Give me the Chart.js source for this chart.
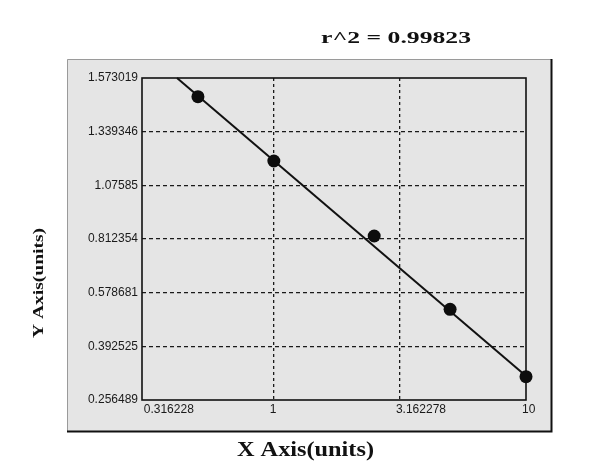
<!DOCTYPE html>
<html><head><meta charset="utf-8">
<script src="https://cdn.jsdelivr.net/npm/chart.js@4/dist/chart.umd.min.js"></script>
<style>html,body{margin:0;padding:0;background:#fff}#wrap{width:600px;height:472px;position:relative}</style>
</head><body><div id="wrap"><canvas id="c" width="600" height="472"></canvas></div>
<script>
const titleText = 'r^2 = 0.99823';
const xAxisTitle = 'X Axis(units)';
const yAxisTitle = 'Y Axis(units)';
const xTickValues = [0.316228, 1, 3.162278, 10];
const xTickLabels = ['0.316228', '1', '3.162278', '10'];
const yTickValues = [0.256489, 0.392525, 0.578681, 0.812354, 1.07585, 1.339346, 1.573019];
const yTickLabels = ['0.256489', '0.392525', '0.578681', '0.812354', '1.07585', '1.339346', '1.573019'];
const concentrations = [0.5, 1, 2.5, 5, 10];
const responses = [1.4917, 1.1952, 0.8271, 0.5210, 0.3155];
const fitX = [0.413, 10];
const fitY = [1.573019, 0.3173];

// y axis: tick labels are evenly spaced; values between ticks are interpolated
class TickSpacedScale extends Chart.LinearScale {
  determineDataLimits() {
    this.min = yTickValues[0];
    this.max = yTickValues[yTickValues.length - 1];
  }
  buildTicks() { return yTickValues.map(v => ({ value: v })); }
  getPixelForValue(value) {
    const v = yTickValues, n = v.length;
    let i = 0;
    while (i < n - 2 && value > v[i + 1]) i++;
    const f = (i + (value - v[i]) / (v[i + 1] - v[i])) / (n - 1);
    return this.getPixelForDecimal(f);
  }
  getValueForPixel(pixel) {
    const v = yTickValues, n = v.length;
    const d = this.getDecimalForPixel(pixel) * (n - 1);
    const i = Math.min(n - 2, Math.max(0, Math.floor(d)));
    return v[i] + (d - i) * (v[i + 1] - v[i]);
  }
}
TickSpacedScale.id = 'tickspaced';
Chart.register(TickSpacedScale);

function fitText(ctx, text, x, y, font, target, angle) {
  ctx.save();
  ctx.font = font;
  ctx.translate(x, y);
  ctx.rotate(angle);
  const w = ctx.measureText(text).width;
  ctx.scale(target / w, 1);
  ctx.textAlign = 'center';
  ctx.textBaseline = 'alphabetic';
  ctx.fillStyle = '#111';
  ctx.fillText(text, 0, 0);
  ctx.restore();
}

const decor = {
  id: 'decor',
  beforeDraw(chart) {
    const ctx = chart.ctx;
    ctx.save();
    ctx.fillStyle = '#ffffff';
    ctx.fillRect(0, 0, chart.width, chart.height);
    ctx.fillStyle = '#e5e5e5';
    ctx.fillRect(67, 59, 484, 372);
    ctx.lineWidth = 1;
    ctx.strokeStyle = '#9a9a9a';
    ctx.beginPath();
    ctx.moveTo(67.5, 431); ctx.lineTo(67.5, 59.5); ctx.lineTo(551, 59.5);
    ctx.stroke();
    ctx.lineWidth = 2;
    ctx.strokeStyle = '#111';
    ctx.beginPath();
    ctx.moveTo(551.5, 59); ctx.lineTo(551.5, 431.5); ctx.lineTo(67, 431.5);
    ctx.stroke();
    ctx.restore();
  },
  beforeDatasetsDraw(chart) {
    const ctx = chart.ctx, a = chart.chartArea;
    ctx.save();
    ctx.lineWidth = 1.6;
    ctx.strokeStyle = '#111';
    ctx.strokeRect(a.left, a.top, a.right - a.left, a.bottom - a.top);
    ctx.restore();
  },
  afterDraw(chart) {
    const ctx = chart.ctx;
    fitText(ctx, titleText, 396, 43, 'bold 17px "Liberation Serif"', 150, 0);
    fitText(ctx, xAxisTitle, 305.5, 456, 'bold 22px "Liberation Serif"', 137, 0);
    fitText(ctx, yAxisTitle, 42.5, 283, 'bold 15px "Liberation Serif"', 110, -Math.PI / 2);
  }
};

const gridColor = (n) => (c) => (c.index === 0 || c.index === n - 1) ? 'rgba(0,0,0,0)' : '#1a1a1a';

new Chart(document.getElementById('c'), {
  type: 'scatter',
  data: {
    datasets: [
      {
        label: 'fit',
        data: fitX.map((x, i) => ({ x, y: fitY[i] })),
        showLine: true,
        borderColor: '#111',
        borderWidth: 2,
        pointRadius: 0,
        fill: false,
        clip: false,
        order: 2
      },
      {
        label: 'standards',
        data: concentrations.map((x, i) => ({ x, y: responses[i] })),
        showLine: false,
        pointRadius: 6.5,
        pointStyle: 'circle',
        backgroundColor: '#0d0d0d',
        borderColor: '#0d0d0d',
        borderWidth: 0,
        clip: false,
        order: 1
      }
    ]
  },
  options: {
    responsive: false,
    animation: false,
    events: [],
    layout: { padding: { left: 0, top: 78, right: 74, bottom: 52 } },
    plugins: { legend: { display: false }, tooltip: { enabled: false }, title: { display: false } },
    scales: {
      x: {
        type: 'logarithmic',
        min: xTickValues[0],
        max: xTickValues[xTickValues.length - 1],
        afterBuildTicks: (s) => { s.ticks = xTickValues.map(v => ({ value: v })); },
        afterFit: (s) => { s.height = 20; },
        border: { display: false, dash: [3, 3] },
        grid: { color: gridColor(xTickValues.length), lineWidth: 1.3, drawTicks: false },
        ticks: {
          autoSkip: false,
          maxRotation: 0,
          align: 'start',
          labelOffset: -4,
          padding: 2,
          color: '#1a1a1a',
          font: { family: '"Liberation Sans", Arial, sans-serif', size: 12 },
          callback: (v, i) => xTickLabels[i]
        }
      },
      y: {
        type: 'tickspaced',
        afterFit: (s) => { s.width = 142; },
        border: { display: false, dash: [4, 3] },
        grid: { color: gridColor(yTickValues.length), lineWidth: 1.3, drawTicks: false },
        ticks: {
          autoSkip: false,
          padding: 4,
          color: '#1a1a1a',
          font: { family: '"Liberation Sans", Arial, sans-serif', size: 12 },
          callback: (v, i) => yTickLabels[i]
        }
      }
    }
  },
  plugins: [decor]
});
</script>
</body></html>
